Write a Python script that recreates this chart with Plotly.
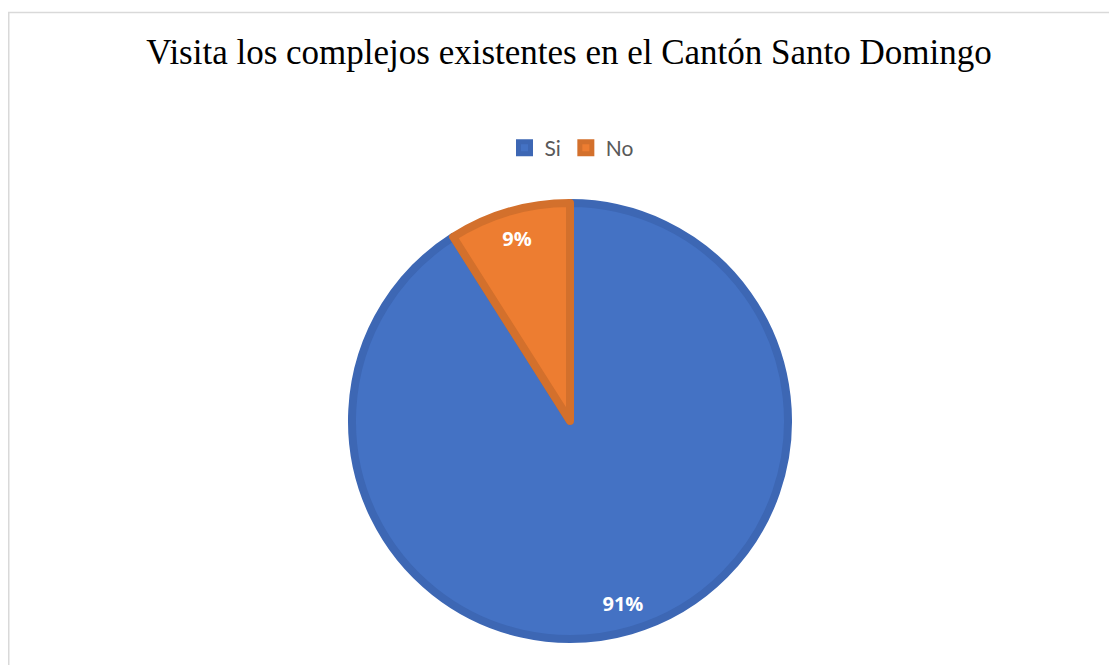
import plotly.graph_objects as go

W, H = 1117, 665
labels = ["Si", "No"]
values = [91, 9]
fill_colors = ["#4472C4", "#ED7D31"]
edge_colors = ["#3D67B4", "#D3702C"]
title_text = "Visita los complejos existentes en el Cantón Santo Domingo"

# page has an 8px body margin; positions below are in figure pixels
cx, cy, r = 562, 413, 218
dom = dict(x=[(cx - r) / W, (cx + r) / W], y=[1 - (cy + r) / H, 1 - (cy - r) / H])

fig = go.Figure()
fig.add_trace(go.Pie(
    labels=labels, values=values, sort=False, direction="clockwise", rotation=0,
    marker=dict(colors=fill_colors, line=dict(color=edge_colors, width=8)),
    textinfo="none", domain=dom, hoverinfo="label+percent",
))
# transparent ring trace used only to place the percentage labels near the rim
fig.add_trace(go.Pie(
    labels=labels, values=values, sort=False, direction="clockwise", rotation=0,
    hole=0.74, showlegend=False,
    marker=dict(colors=["rgba(0,0,0,0)", "rgba(0,0,0,0)"], line=dict(width=0)),
    texttemplate="%{percent:.0%}", textposition="inside",
    insidetextorientation="horizontal",
    textfont=dict(family="Open Sans", size=20, color="white", weight="bold"),
    domain=dom, hoverinfo="skip",
))

fig.update_layout(
    width=W, height=H,
    margin=dict(l=0, r=0, t=0, b=0),
    paper_bgcolor="white", plot_bgcolor="white",
    title=dict(text=title_text, x=561 / W, y=1 - 44 / H, xanchor="center", yanchor="middle",
               font=dict(family="Liberation Serif", size=35, color="black")),
    legend=dict(orientation="h", x=564 / W, y=1 - 140 / H, xanchor="center", yanchor="middle",
                font=dict(family="Lato", size=21, color="#595959")),
    shapes=[dict(type="rect", xref="paper", yref="paper", x0=0.75 / W, y0=-0.02, x1=1.02,
                 y1=1 - 4.5 / H, line=dict(color="#D9D9D9", width=1.5), layer="below")],
)

fig.write_html("out.html")
